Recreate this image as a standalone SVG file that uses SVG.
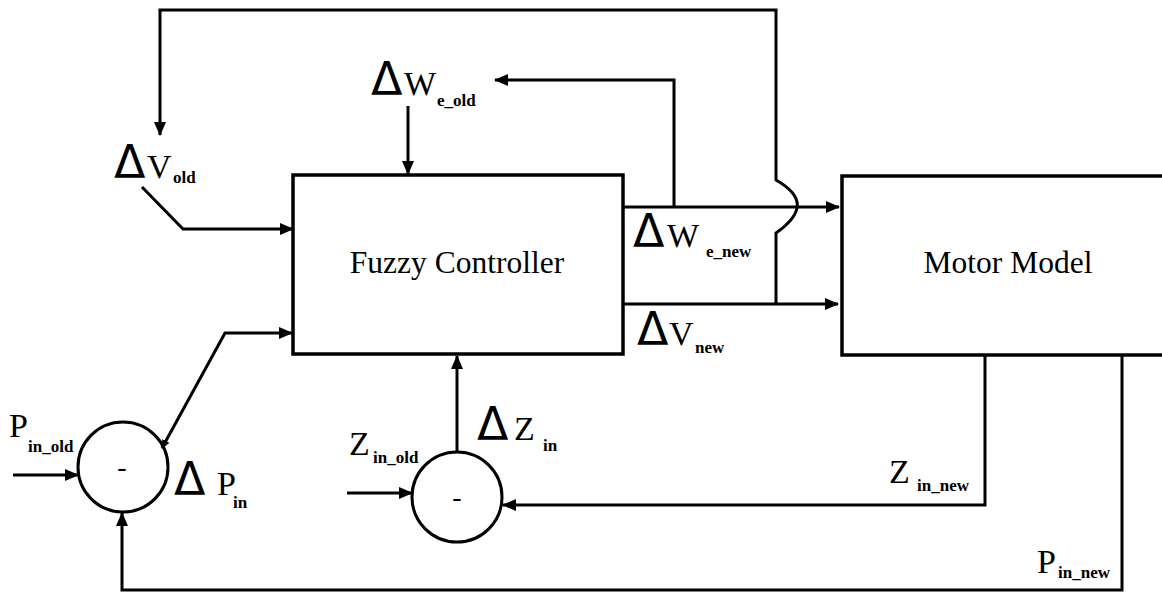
<svg xmlns="http://www.w3.org/2000/svg" width="1162" height="592" viewBox="0 0 1162 592">
<style>
.ln{fill:none;stroke:#000;stroke-width:3}
.box{fill:#fff;stroke:#000;stroke-width:3.5}
.t{font-family:"Liberation Serif","Times New Roman",serif;fill:#000}
.big{font-size:31.5px}
.m{font-size:34px}
.s{font-size:17px;font-weight:bold}
.d{font-family:"DejaVu Sans",sans-serif;font-size:46px}
.mn{font-size:28px}
</style>
<defs>
<marker id="ah" markerUnits="userSpaceOnUse" markerWidth="14" markerHeight="12" refX="13" refY="6" orient="auto">
<path d="M0,0 L14,6 L0,12 z" fill="#000"/>
</marker>
<marker id="ahs" markerUnits="userSpaceOnUse" markerWidth="9" markerHeight="8" refX="8" refY="4" orient="auto-start-reverse">
<path d="M0,0 L9,4 L0,8 z" fill="#000"/>
</marker>
</defs>
<rect width="1162" height="592" fill="#fff"/>
<g id="connectors">
<path class="ln" d="M776,304 L776,233 C786,226 795,218 797,208 C799,198 790,188 776,180 L776,10 L160,10 L160,135" marker-end="url(#ah)"/>
<path class="ln" d="M142,187 L183,229 L293,229" marker-end="url(#ah)"/>
<path class="ln" d="M408,106 L408,174" marker-end="url(#ah)"/>
<path class="ln" d="M623,207 L839,207" marker-end="url(#ah)"/>
<path class="ln" d="M674,207 L674,80 L495,80" marker-end="url(#ah)"/>
<path class="ln" d="M623,304 L838,304" marker-end="url(#ah)"/>
<path class="ln" d="M985,355 L985,505 L503,505" marker-end="url(#ah)"/>
<path class="ln" d="M1122,355 L1122,590 L122,590 L122,513" marker-end="url(#ah)"/>
<path class="ln" d="M13,475 L78,475" marker-end="url(#ah)"/>
<path class="ln" d="M162,448 L225,333 L292,333" marker-start="url(#ahs)" marker-end="url(#ah)"/>
<path class="ln" d="M347,493 L412,493" marker-end="url(#ah)"/>
<path class="ln" d="M457,452 L457,356" marker-end="url(#ah)"/>
</g>
<g id="fuzzy">
<rect class="box" x="293" y="175" width="330" height="179"/>
<text class="t big" x="457" y="273" text-anchor="middle">Fuzzy Controller</text>
</g>
<g id="motor">
<rect class="box" x="842" y="176" width="340" height="179"/>
<text class="t big" x="1008" y="273" text-anchor="middle">Motor Model</text>
</g>
<g id="sumP">
<circle class="ln" cx="123" cy="467" r="45"/>
<text class="t mn" x="122" y="476" text-anchor="middle">-</text>
</g>
<g id="sumZ">
<circle class="ln" cx="457" cy="497" r="45"/>
<text class="t mn" x="457" y="506" text-anchor="middle">-</text>
</g>
<g id="labels">
<text class="t"><tspan class="d" x="114" y="178">Δ</tspan><tspan class="m" x="147" y="178">V</tspan><tspan class="s" x="173" y="183">old</tspan></text>
<text class="t"><tspan class="d" x="371" y="95">Δ</tspan><tspan class="m" x="404" y="95">W</tspan><tspan class="s" x="437" y="106">e_old</tspan></text>
<text class="t"><tspan class="d" x="633" y="247">Δ</tspan><tspan class="m" x="667" y="247">W</tspan><tspan class="s" x="706" y="257">e_new</tspan></text>
<text class="t"><tspan class="d" x="637" y="345">Δ</tspan><tspan class="m" x="669" y="345">V</tspan><tspan class="s" x="695" y="353">new</tspan></text>
<text class="t"><tspan class="m" x="9" y="437">P</tspan><tspan class="s" x="28" y="452">in_old</tspan></text>
<text class="t"><tspan class="d" x="174" y="495">Δ</tspan><tspan class="m" x="217" y="495">P</tspan><tspan class="s" x="233" y="508">in</tspan></text>
<text class="t"><tspan class="m" x="349" y="455">Z</tspan><tspan class="s" x="373" y="463">in_old</tspan></text>
<text class="t"><tspan class="d" x="477" y="440">Δ</tspan><tspan class="m" x="514" y="440">Z</tspan><tspan class="s" x="543" y="451">in</tspan></text>
<text class="t"><tspan class="m" x="889" y="483">Z</tspan><tspan class="s" x="917" y="491">in_new</tspan></text>
<text class="t"><tspan class="m" x="1037" y="573">P</tspan><tspan class="s" x="1058" y="578">in_new</tspan></text>
</g>
</svg>
